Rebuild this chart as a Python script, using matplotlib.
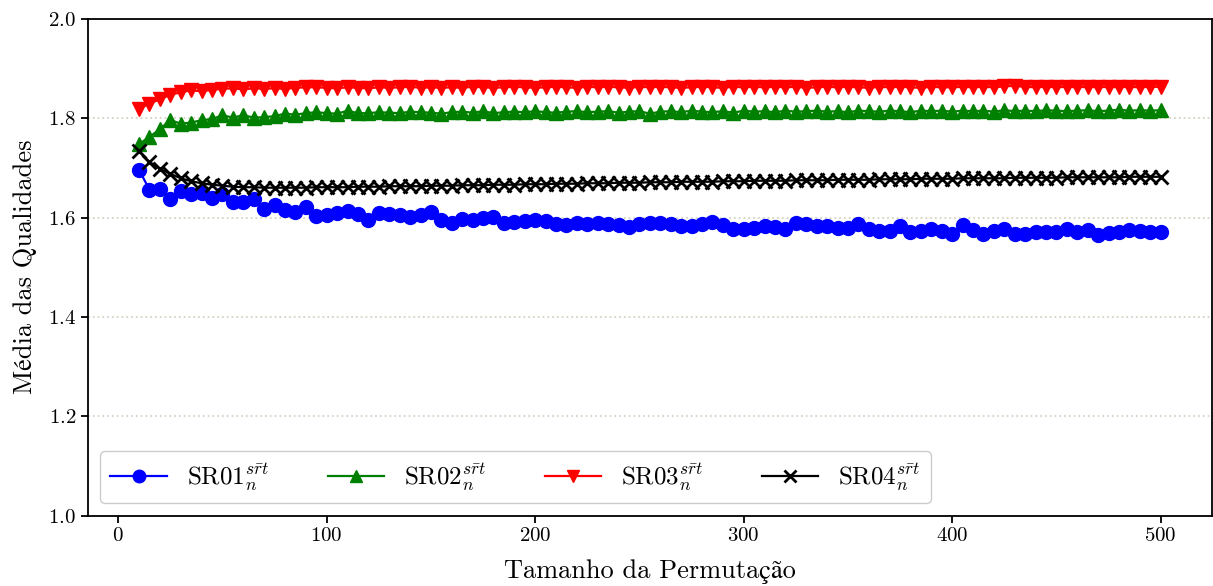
import matplotlib
matplotlib.use("Agg")
import matplotlib.pyplot as plt

# ===== data =====
sizes = list(range(10, 505, 5))

sr01 = [1.696, 1.656, 1.657, 1.638, 1.653, 1.647, 1.649, 1.640, 1.647, 1.631,
        1.631, 1.637, 1.618, 1.626, 1.616, 1.612, 1.621, 1.604, 1.606, 1.610,
        1.614, 1.608, 1.596, 1.609, 1.608, 1.606, 1.602, 1.606, 1.612, 1.596,
        1.589, 1.597, 1.596, 1.599, 1.601, 1.589, 1.591, 1.594, 1.596, 1.592,
        1.587, 1.584, 1.589, 1.587, 1.589, 1.587, 1.584, 1.580, 1.586, 1.588,
        1.588, 1.586, 1.582, 1.582, 1.586, 1.590, 1.584, 1.577, 1.577, 1.579,
        1.582, 1.580, 1.577, 1.588, 1.586, 1.582, 1.582, 1.579, 1.579, 1.586,
        1.577, 1.573, 1.573, 1.582, 1.571, 1.572, 1.577, 1.573, 1.567, 1.584,
        1.575, 1.567, 1.573, 1.577, 1.567, 1.567, 1.571, 1.571, 1.571, 1.577,
        1.571, 1.574, 1.565, 1.569, 1.570, 1.575, 1.573, 1.571, 1.570]

sr02 = [1.748, 1.762, 1.778, 1.796, 1.789, 1.791, 1.796, 1.798, 1.806, 1.801,
        1.806, 1.801, 1.802, 1.804, 1.809, 1.807, 1.810, 1.812, 1.810, 1.809,
        1.815, 1.810, 1.810, 1.812, 1.811, 1.810, 1.813, 1.812, 1.811, 1.809,
        1.812, 1.813, 1.811, 1.814, 1.810, 1.812, 1.813, 1.812, 1.814, 1.812,
        1.811, 1.813, 1.814, 1.812, 1.813, 1.814, 1.811, 1.813, 1.814, 1.809,
        1.813, 1.814, 1.812, 1.815, 1.813, 1.812, 1.814, 1.811, 1.815, 1.813,
        1.814, 1.812, 1.815, 1.813, 1.814, 1.815, 1.813, 1.814, 1.812, 1.815,
        1.814, 1.813, 1.815, 1.814, 1.812, 1.815, 1.814, 1.815, 1.813, 1.815,
        1.814, 1.815, 1.813, 1.816, 1.814, 1.815, 1.814, 1.816, 1.815, 1.814,
        1.815, 1.816, 1.814, 1.815, 1.817, 1.815, 1.816, 1.815, 1.816]

sr03 = [1.819, 1.829, 1.838, 1.847, 1.852, 1.856, 1.854, 1.857, 1.859, 1.860,
        1.858, 1.860, 1.859, 1.860, 1.859, 1.861, 1.862, 1.862, 1.861, 1.860,
        1.862, 1.861, 1.860, 1.862, 1.861, 1.862, 1.863, 1.861, 1.862, 1.861,
        1.862, 1.861, 1.863, 1.862, 1.861, 1.862, 1.863, 1.862, 1.861, 1.862,
        1.863, 1.862, 1.861, 1.863, 1.862, 1.863, 1.862, 1.861, 1.863, 1.862,
        1.863, 1.862, 1.861, 1.862, 1.863, 1.862, 1.861, 1.863, 1.862, 1.863,
        1.862, 1.863, 1.862, 1.863, 1.861, 1.862, 1.863, 1.862, 1.863, 1.862,
        1.861, 1.863, 1.862, 1.863, 1.862, 1.861, 1.863, 1.862, 1.862, 1.863,
        1.862, 1.863, 1.862, 1.864, 1.865, 1.863, 1.862, 1.863, 1.862, 1.863,
        1.862, 1.863, 1.862, 1.863, 1.862, 1.863, 1.862, 1.863, 1.863]

sr04 = [1.733, 1.712, 1.698, 1.688, 1.679, 1.673, 1.669, 1.666, 1.664, 1.662,
        1.661, 1.661, 1.660, 1.660, 1.660, 1.660, 1.660, 1.661, 1.661, 1.661,
        1.661, 1.662, 1.662, 1.662, 1.663, 1.663, 1.663, 1.663, 1.664, 1.664,
        1.664, 1.665, 1.665, 1.665, 1.666, 1.666, 1.666, 1.667, 1.667, 1.667,
        1.668, 1.668, 1.668, 1.669, 1.669, 1.669, 1.670, 1.670, 1.670, 1.671,
        1.671, 1.671, 1.672, 1.672, 1.672, 1.672, 1.673, 1.673, 1.673, 1.674,
        1.674, 1.674, 1.674, 1.675, 1.675, 1.675, 1.675, 1.676, 1.676, 1.676,
        1.676, 1.677, 1.677, 1.677, 1.677, 1.678, 1.678, 1.678, 1.678, 1.679,
        1.679, 1.679, 1.679, 1.679, 1.680, 1.680, 1.680, 1.680, 1.680, 1.681,
        1.681, 1.681, 1.681, 1.681, 1.681, 1.682, 1.682, 1.682, 1.682]

labels = [r"SR01$_n^{s\bar{r}t}$", r"SR02$_n^{s\bar{r}t}$",
          r"SR03$_n^{s\bar{r}t}$", r"SR04$_n^{s\bar{r}t}$"]

# ===== style =====
plt.rcParams["font.family"] = ["cmr10", "STIXGeneral"]
plt.rcParams["mathtext.fontset"] = "cm"
plt.rcParams["axes.unicode_minus"] = False
plt.rcParams["axes.formatter.use_mathtext"] = True


def plot_chart():
    fig, ax = plt.subplots(figsize=(12.13, 5.86), dpi=100)
    fig.subplots_adjust(left=0.0725, right=0.999, top=0.968, bottom=0.12)

    series = [(sr01, "blue", "o"), (sr02, "green", "^"),
              (sr03, "red", "v"), (sr04, "black", "x")]
    for (vals, color, marker), label in zip(series, labels):
        ax.plot(sizes, vals, color=color, marker=marker, markersize=10,
                markeredgewidth=2 if marker == "x" else 1,
                linewidth=1.6, label=label)

    ax.set_ylim(1.0, 2.0)
    ax.set_xticks([0, 100, 200, 300, 400, 500])
    ax.set_yticks([1.0, 1.2, 1.4, 1.6, 1.8, 2.0])
    ax.yaxis.grid(True, linestyle=":", color="#d4d4c4", linewidth=1.3)
    ax.set_axisbelow(True)

    for sp in ax.spines.values():
        sp.set_linewidth(1.3)
    ax.tick_params(labelsize=15, width=1.3, length=5)

    ax.set_xlabel("Tamanho da Permutação", fontsize=19, labelpad=10)
    ax.set_ylabel("Média das Qualidades", fontsize=19, labelpad=8)

    ax.legend(loc="lower left", ncol=4, fontsize=18, handlelength=2.25,
              handletextpad=0.8, columnspacing=2.35, borderpad=0.4,
              markerscale=0.9, fancybox=True, edgecolor="#cccccc",
              framealpha=1.0)

    fig.savefig("out.png", dpi=100)
    plt.close(fig)


if __name__ == "__main__":
    plot_chart()
